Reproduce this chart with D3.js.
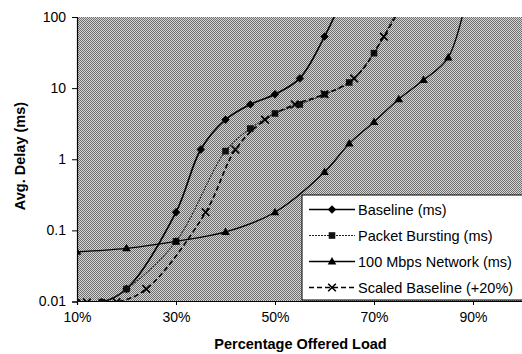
<!DOCTYPE html>
<html>
<head>
<meta charset="utf-8">
<script src="https://cdn.jsdelivr.net/npm/d3@7/dist/d3.min.js"></script>
<style>
  body { margin: 0; background: #fff; }
  text { font-family: "Liberation Sans", Arial, sans-serif; fill: #000; }
</style>
</head>
<body>
<div id="chart"></div>
<script>
// offered load (%) and average delay (ms)
var baselineLoad  = [10, 15, 20, 30, 35, 40, 45, 50, 55, 60, 65];
var baselineDelay = [0.0097, 0.0098, 0.015, 0.18, 1.37, 3.6, 5.9, 8.2, 13.7, 53, 300];

var packetLoad  = [10, 15, 20, 30, 40, 45, 50, 55, 60, 65, 70, 75];
var packetDelay = [0.0097, 0.0098, 0.015, 0.07, 1.3, 2.7, 4.4, 5.9, 8.2, 12, 31, 140];

var mbpsLoad  = [10, 20, 30, 40, 50, 60, 65, 70, 75, 80, 85, 90];
var mbpsDelay = [0.05, 0.056, 0.07, 0.095, 0.18, 0.66, 1.66, 3.35, 7.0, 13, 27, 500];

var scaledLoad  = [12, 18, 24, 36, 42, 48, 54, 60, 66, 72, 78];
var scaledDelay = [0.0097, 0.0098, 0.015, 0.18, 1.37, 3.6, 5.9, 8.2, 13.7, 53, 300];

var xTicks = [10, 30, 50, 70, 90];
var yTicks = [0.01, 0.1, 1, 10, 100];

var seriesNames = ["Baseline (ms)", "Packet Bursting (ms)", "100 Mbps Network (ms)", "Scaled Baseline (+20%)"];

var svgWidth = 522, svgHeight = 354;
var margin = { top: 17, right: 0, bottom: 53, left: 77 };
var width = svgWidth - margin.left - margin.right;
var height = svgHeight - margin.top - margin.bottom;

var svg = d3.select("#chart").append("svg")
  .attr("width", svgWidth)
  .attr("height", svgHeight);

// dithered grey like the scanned plot area
var defs = svg.append("defs");
var pat = defs.append("pattern")
  .attr("id", "dither")
  .attr("width", 2).attr("height", 2)
  .attr("patternUnits", "userSpaceOnUse");
pat.append("rect").attr("width", 2).attr("height", 2).attr("fill", "#d4d4d4");
pat.append("rect").attr("width", 1).attr("height", 1).attr("fill", "#707070");
pat.append("rect").attr("x", 1).attr("y", 1).attr("width", 1).attr("height", 1).attr("fill", "#707070");

defs.append("clipPath").attr("id", "plotClip")
  .append("rect").attr("width", width).attr("height", height + 1);

var chartGroup = svg.append("g")
  .attr("transform", `translate(${margin.left}, ${margin.top})`);

var xScale = d3.scaleLinear().domain([10, 100]).range([0, width + 0.5]);
var yScale = d3.scaleLog().domain([0.01, 100]).range([height + 0.5, 0]);

chartGroup.append("rect")
  .attr("width", width)
  .attr("height", height)
  .attr("fill", "url(#dither)");

// axes
var bottomAxis = d3.axisBottom(xScale)
  .tickValues(xTicks)
  .tickSize(4)
  .tickFormat(d => d + "%");
var leftAxis = d3.axisLeft(yScale)
  .tickValues(yTicks)
  .tickSize(5)
  .tickFormat(d => String(d));

var xAxis = chartGroup.append("g")
  .attr("transform", `translate(0, ${height})`)
  .call(bottomAxis);
xAxis.select(".domain").attr("stroke", "#000").attr("stroke-width", 1.2);
xAxis.selectAll("text").attr("font-size", 14).attr("dy", "1.05em").attr("y", 6);

var yAxis = chartGroup.append("g").call(leftAxis);
yAxis.select(".domain").attr("stroke", "#000").attr("stroke-width", 1.2);
yAxis.selectAll("text").attr("font-size", 14).attr("x", -11);

chartGroup.selectAll(".tick line").attr("stroke", "#000");
chartGroup.selectAll(".tick text").attr("font-family", "Liberation Sans, Arial, sans-serif");

// axis titles
chartGroup.append("text")
  .attr("x", width / 2 + 1)
  .attr("y", height + 48)
  .attr("text-anchor", "middle")
  .attr("font-size", 14.5)
  .attr("font-weight", "bold")
  .text("Percentage Offered Load");

chartGroup.append("text")
  .attr("transform", `translate(${-52}, ${height / 2 - 3}) rotate(-90)`)
  .attr("text-anchor", "middle")
  .attr("font-size", 14.5)
  .attr("font-weight", "bold")
  .text("Avg. Delay (ms)");

// marker shapes
function drawMarker(g, kind) {
  if (kind === "diamond") {
    g.append("path").attr("d", "M0,-4.2L4.2,0L0,4.2L-4.2,0Z").attr("fill", "#000");
  } else if (kind === "square") {
    g.append("rect").attr("x", -3.3).attr("y", -3.3).attr("width", 6.6).attr("height", 6.6).attr("fill", "#111");
  } else if (kind === "triangle") {
    g.append("path").attr("d", "M0,-4.5L4.3,3L-4.3,3Z").attr("fill", "#000");
  } else {
    g.append("path").attr("d", "M-3.8,-3.8L3.8,3.8M-3.8,3.8L3.8,-3.8")
      .attr("stroke", "#000").attr("stroke-width", 1.6).attr("fill", "none");
  }
}

var series = [
  { name: seriesNames[0], load: baselineLoad, delay: baselineDelay, marker: "diamond", width: 1.6, dash: null, color: "#000" },
  { name: seriesNames[1], load: packetLoad, delay: packetDelay, marker: "square", width: 1.1, dash: "2,1", color: "#222" },
  { name: seriesNames[2], load: mbpsLoad, delay: mbpsDelay, marker: "triangle", width: 1.3, dash: null, color: "#000" },
  { name: seriesNames[3], load: scaledLoad, delay: scaledDelay, marker: "cross", width: 1.6, dash: "5,3", color: "#000" }
];

var line = d3.line()
  .x(d => xScale(d[0]))
  .y(d => yScale(d[1]))
  .curve(d3.curveCatmullRom.alpha(0.5));

var plotGroup = chartGroup.append("g").attr("clip-path", "url(#plotClip)");

series.forEach(function(s) {
  var pts = s.load.map((l, i) => [l, s.delay[i]]);
  plotGroup.append("path")
    .datum(pts)
    .attr("d", line)
    .attr("fill", "none")
    .attr("stroke", s.color)
    .attr("stroke-width", s.width)
    .attr("stroke-dasharray", s.dash);
  plotGroup.selectAll(null)
    .data(pts)
    .enter()
    .append("g")
    .attr("transform", d => `translate(${xScale(d[0])}, ${yScale(d[1])})`)
    .each(function() { drawMarker(d3.select(this), s.marker); });
});

// legend
var legend = chartGroup.append("g")
  .attr("transform", `translate(${225}, ${178})`);
legend.append("rect")
  .attr("width", 230)
  .attr("height", 105)
  .attr("fill", "#fff")
  .attr("stroke", "#000")
  .attr("stroke-width", 1);

series.forEach(function(s, i) {
  var row = legend.append("g").attr("transform", `translate(0, ${14.5 + i * 26})`);
  row.append("line")
    .attr("x1", 7).attr("x2", 53)
    .attr("stroke", s.color)
    .attr("stroke-width", s.width)
    .attr("stroke-dasharray", s.dash);
  var m = row.append("g").attr("transform", "translate(30, 0)");
  drawMarker(m, s.marker);
  row.append("text")
    .attr("x", 56)
    .attr("dy", "0.36em")
    .attr("font-size", 14.5)
    .text(s.name);
});
</script>
</body>
</html>
